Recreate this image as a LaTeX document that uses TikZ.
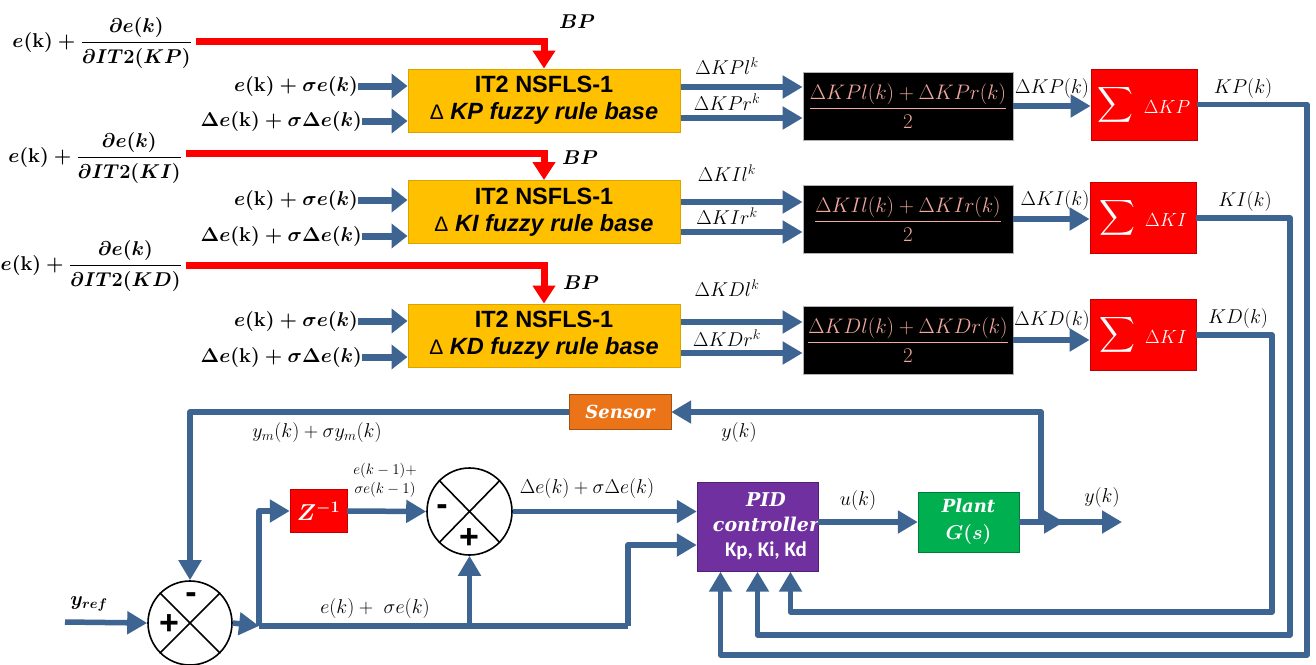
\RequirePackage{fix-cm}
\documentclass[tikz,border=0pt]{standalone}
\usepackage{amsmath}
\usepackage{fontspec}
\newfontfamily\boxsans{Liberation Sans}
\newfontfamily\dvserif{DejaVu Serif}
\newfontfamily\calibsans{Carlito}
\usetikzlibrary{arrows.meta,calc,shapes.geometric}
\definecolor{flowblue}{HTML}{3E6491}
\definecolor{fzgold}{HTML}{FFC000}
\definecolor{fzedge}{HTML}{D9A300}
\definecolor{pinktext}{HTML}{F2A89C}
\definecolor{pidpurple}{HTML}{7030A0}
\definecolor{plantgreen}{HTML}{00B050}
\definecolor{sensorange}{HTML}{EC7418}
\definecolor{sumred}{HTML}{FF0000}
\tikzset{
  lbl/.style={inner sep=0pt, font=\fontsize{20}{24}\selectfont},
  smlbl/.style={inner sep=0pt, align=center, font=\fontsize{15}{19}\selectfont},
  blbl/.style={inner sep=0pt, font=\boldmath\fontsize{20}{24}\selectfont},
  fuzzybox/.style={draw=fzedge, line width=1pt, fill=fzgold, minimum width=272pt, minimum height=63pt, align=center, inner sep=0pt, font=\boxsans\fontsize{23.5}{27}\selectfont},
  avgbox/.style={draw=gray!60, line width=0.8pt, fill=black, minimum width=210pt, minimum height=68pt, inner sep=0pt, text=pinktext, font=\fontsize{21}{25}\selectfont},
  sumbox/.style={draw=red!75!black, line width=0.8pt, fill=sumred, minimum width=106pt, minimum height=71pt, inner sep=0pt, text=white, font=\fontsize{19}{22}\selectfont},
  flow/.style={draw=flowblue, line width=5.5pt, line join=round, -{Triangle[length=20pt,width=22pt]}},
  flowline/.style={draw=flowblue, line width=5.5pt, line join=round},
  inarrow/.style={draw=flowblue, line width=7pt, -{Triangle[length=16pt,width=24pt]}},
  redflow/.style={draw=sumred, line width=7pt, -{Triangle[length=18pt,width=22pt]}},
  sumcircle/.style={draw=black, line width=1.6pt, ellipse, fill=white, inner sep=0pt},
  signlbl/.style={inner sep=0pt, font=\boxsans\bfseries\fontsize{34}{34}\selectfont},
  colorbox/.style={inner sep=0pt, text=white, align=center},
}
\newcommand{\sumsign}{{\fontsize{34}{34}\selectfont$\displaystyle\sum$}\hspace{10pt}}
\newcommand{\boxital}{\dvserif\bfseries\itshape}
\newcommand{\fzdelta}{{\fontsize{21}{22}\selectfont Δ}~}
\begin{document}
\begin{tikzpicture}[x=1pt,y=-1pt]
\useasboundingbox[fill=white] (0,0) rectangle (1316,664);

% ---------------- Row 1 : KP ----------------
\node[fuzzybox] (f1) at (544,100.5) {{\bfseries IT2 NSFLS-1}\\\fzdelta{\bfseries\itshape KP fuzzy rule base}};
\node[avgbox] (g1) at (908,106) {$\dfrac{\Delta KPl(k)+\Delta KPr(k)}{2}$};
\node[sumbox] (h1) at (1144,104.5) {\sumsign$\Delta KP$};
\node[blbl,anchor=east] (d1) at (192,43) {$e(\mathbf{k})+\dfrac{\partial e(k)}{\partial IT2(KP)}$};
\node[blbl] (bp1) at (577,22) {$BP$};
\node[blbl,anchor=east] (a1) at (358,86) {$e(\mathbf{k})+\sigma e(k)$};
\node[blbl,anchor=east] (b1) at (362,121) {$\Delta e(\mathbf{k})+\sigma\Delta e(k)$};
\node[lbl] (l1a) at (727,66) {$\Delta KPl^k$};
\node[lbl] (l1b) at (727,102) {$\Delta KPr^k$};
\node[lbl] (k1a) at (1052,88) {$\Delta KP(k)$};
\node[lbl] (k1b) at (1243,88) {$KP(k)$};
\draw[redflow] ([xshift=4pt,yshift=2pt]d1.east) -| (f1.north);
\draw[inarrow] (a1.east) -- (a1.east -| f1.west);
\draw[inarrow] (b1.east) -- (b1.east -| f1.west);
\coordinate (o1a) at ([yshift=13.5pt]f1.east);
\coordinate (o1b) at ([yshift=-17.5pt]f1.east);
\draw[flow] (o1a) -- (o1a -| g1.west);
\draw[flow] (o1b) -- (o1b -| g1.west);
\draw[flow] (g1.east) -- (g1.east -| h1.west);

% ---------------- Row 2 : KI ----------------
\node[fuzzybox] (f2) at (544,212) {{\bfseries IT2 NSFLS-1}\\\fzdelta{\bfseries\itshape KI fuzzy rule base}};
\node[avgbox] (g2) at (908,219) {$\dfrac{\Delta KIl(k)+\Delta KIr(k)}{2}$};
\node[sumbox] (h2) at (1143,218) {\sumsign$\Delta KI$};
\node[blbl,anchor=east] (d2) at (182,158) {$e(\mathbf{k})+\dfrac{\partial e(k)}{\partial IT2(KI)}$};
\node[blbl] (bp2) at (580,158) {$BP$};
\node[blbl,anchor=east] (a2) at (358,200) {$e(\mathbf{k})+\sigma e(k)$};
\node[blbl,anchor=east] (b2) at (362,236) {$\Delta e(\mathbf{k})+\sigma\Delta e(k)$};
\node[lbl] (l2a) at (727,173) {$\Delta KIl^k$};
\node[lbl] (l2b) at (727,216) {$\Delta KIr^k$};
\node[lbl] (k2a) at (1055,200) {$\Delta KI(k)$};
\node[lbl] (k2b) at (1245,201) {$KI(k)$};
\draw[redflow] ([xshift=4pt,yshift=5pt]d2.east) -| (f2.north);
\draw[inarrow] (a2.east) -- (a2.east -| f2.west);
\draw[inarrow] (b2.east) -- (b2.east -| f2.west);
\coordinate (o2a) at ([yshift=10pt]f2.east);
\coordinate (o2b) at ([yshift=-20pt]f2.east);
\draw[flow] (o2a) -- (o2a -| g2.west);
\draw[flow] (o2b) -- (o2b -| g2.west);
\draw[flow] (g2.east) -- (g2.east -| h2.west);

% ---------------- Row 3 : KD ----------------
\node[fuzzybox] (f3) at (544,335.5) {{\bfseries IT2 NSFLS-1}\\\fzdelta{\bfseries\itshape KD fuzzy rule base}};
\node[avgbox] (g3) at (908,340) {$\dfrac{\Delta KDl(k)+\Delta KDr(k)}{2}$};
\node[sumbox] (h3) at (1143,335) {\sumsign$\Delta KI$};
\node[blbl,anchor=east] (d3) at (182,266) {$e(\mathbf{k})+\dfrac{\partial e(k)}{\partial IT2(KD)}$};
\node[blbl] (bp3) at (581,283) {$BP$};
\node[blbl,anchor=east] (a3) at (358,321) {$e(\mathbf{k})+\sigma e(k)$};
\node[blbl,anchor=east] (b3) at (362,357) {$\Delta e(\mathbf{k})+\sigma\Delta e(k)$};
\node[lbl] (l3a) at (727,288) {$\Delta KDl^k$};
\node[lbl] (l3b) at (727,338) {$\Delta KDr^k$};
\node[lbl] (k3a) at (1052,320) {$\Delta KD(k)$};
\node[lbl] (k3b) at (1238,318) {$KD(k)$};
\draw[redflow] ([xshift=4pt,yshift=1pt]d3.east) -| (f3.north);
\draw[inarrow] (a3.east) -- (a3.east -| f3.west);
\draw[inarrow] (b3.east) -- (b3.east -| f3.west);
\coordinate (o3a) at ([yshift=13.5pt]f3.east);
\coordinate (o3b) at ([yshift=-17.5pt]f3.east);
\draw[flow] (o3a) -- (o3a -| g3.west);
\draw[flow] (o3b) -- (o3b -| g3.west);
\draw[flow] (g3.east) -- (g3.east -| h3.west);

% ---------------- Lower loop ----------------
\node[colorbox, fill=pidpurple, draw=pidpurple!70!black, minimum width=121pt, minimum height=89pt] (pid) at (757.5,527) {};
\node[colorbox, font=\fontsize{19}{25}\selectfont] (pidt) at (766,526) {{\boxital PID}\\{\boxital controller}\\{\calibsans\bfseries\fontsize{21}{25}\selectfont Kp, Ki, Kd}};
\node[colorbox, fill=plantgreen, draw=plantgreen!70!black, minimum width=101pt, minimum height=60pt, font=\fontsize{18}{27}\selectfont] (plant) at (968.5,522) {{\boxital Plant}\\{\fontsize{20}{27}\selectfont$\boldsymbol{G(s)}$}};
\node[colorbox, fill=sensorange, draw=sensorange!70!black, minimum width=102pt, minimum height=35pt, font=\dvserif\bfseries\itshape\fontsize{18}{24}\selectfont] (sens) at (620,412) {Sensor};
\node[colorbox, fill=sumred, draw=red!75!black, minimum width=57pt, minimum height=43pt, font=\fontsize{23}{26}\selectfont] (zb) at (318.5,511) {$\boldsymbol{Z^{-1}}$};
\node[sumcircle, minimum width=84pt, minimum height=84pt] (s1) at (190,623) {};
\node[sumcircle, minimum width=85pt, minimum height=87pt] (s2) at (469.5,511.5) {};
\draw[line width=1.6pt] (s1.north west) -- (s1.south east) (s1.north east) -- (s1.south west);
\draw[line width=1.6pt] (s2.north west) -- (s2.south east) (s2.north east) -- (s2.south west);
\node[signlbl] (s1p) at (169,625) {+};
\node[signlbl] (s1m) at (191,598) {-};
\node[signlbl] (s2m) at (442,510) {-};
\node[signlbl] (s2p) at (469,539) {+};

% coordinates
\coordinate (yrefin) at (65,622);
\coordinate (j1) at (259,626);
\coordinate (j2) at (469.5,626);
\coordinate (j3) at (628,626);
\coordinate (pidin2) at ([yshift=-18pt]pid.west);
\coordinate (fbc) at (1041,522);
\coordinate (ymid) at (1064,522);
\coordinate (yend) at (1122,522);
\coordinate (kpc) at (1307,655);
\coordinate (kic) at (1290,635);
\coordinate (kdc) at (1272,612);
\coordinate (kpin) at ([xshift=-37pt]pid.south);
\coordinate (kiin) at (pid.south);
\coordinate (kdin) at ([xshift=33pt]pid.south);

% labels
\node[blbl] (yref) at (89,604) {$y_{ref}$};
\node[lbl] (ym) at (317,432) {$y_m(k)+\sigma y_m(k)$};
\node[lbl] (yk1) at (739,432) {$y(k)$};
\node[smlbl] (ekm) at (385,480) {$e(k-1)+$\\$\sigma e(k-1)$};
\node[lbl] (de) at (587,488) {$\Delta e(k)+\sigma\Delta e(k)$};
\node[lbl] (ek) at (375,608) {$e(k)+\ \sigma e(k)$};
\node[lbl] (uk) at (858,500) {$u(k)$};
\node[lbl] (yk2) at (1102,497) {$y(k)$};

% connectors
\draw[flow] (yrefin) -- (s1.west);
\draw[flow] (sens.west) -| (s1.north);
\draw[flow] (s1.east) -- (j1);
\draw[flowline] (j1) -- (j3);
\draw[flow] (j3) |- (pidin2);
\draw[flow] (j1) |- (zb.west);
\draw[flow] (zb.east) -- (s2.west);
\draw[flow] (j2) -- (s2.south);
\draw[flow] (s2.east) -- (s2.east -| pid.west);
\draw[flow] (pid.east |- plant.west) -- (plant.west);
\draw[flow] (plant.east) -- (yend);
\draw[flow] (plant.east) -- (ymid);
\draw[flow] (fbc) |- (sens.east);
\draw[flow] (h1.east) -| (kpc) -| (kpin);
\draw[flow] (h2.east) -| (kic) -| (kiin);
\draw[flow] (h3.east) -| (kdc) -| (kdin);
\end{tikzpicture}
\end{document}
